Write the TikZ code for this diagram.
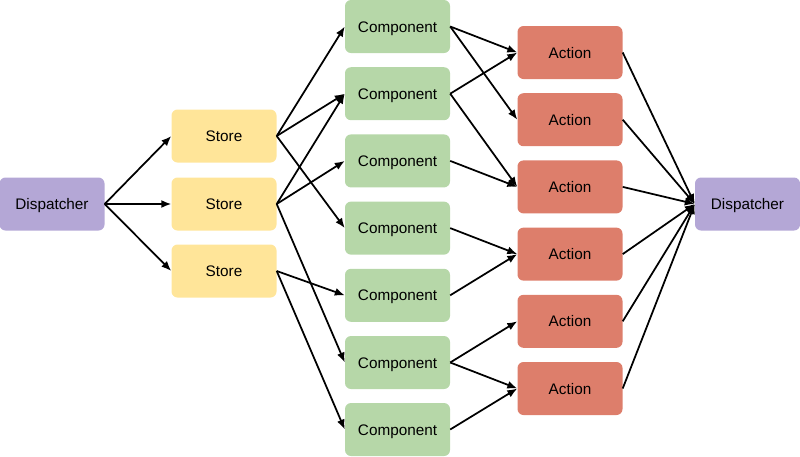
\documentclass[tikz,border=0pt]{standalone}
\usepackage{fontspec}
\setmainfont{Liberation Sans}
\usetikzlibrary{arrows.meta}
\usepackage{xcolor}

\definecolor{dispcol}{HTML}{B4A7D6}
\definecolor{storecol}{HTML}{FFE599}
\definecolor{compcol}{HTML}{B6D7A8}
\definecolor{actcol}{HTML}{DD7E6B}

\begin{document}
\begin{tikzpicture}[x=1pt, y=-1pt,
	box/.style={rounded corners=6pt, minimum width=105pt, minimum height=53pt,
		inner sep=0pt, text height=11pt, text depth=0pt,
		font=\fontsize{15.3}{18}\selectfont},
	disp/.style={box, fill=dispcol},
	store/.style={box, fill=storecol},
	comp/.style={box, fill=compcol},
	act/.style={box, fill=actcol},
	flow/.style={-{Latex[length=10pt, width=8pt]}, line width=1.75pt}]
	\useasboundingbox (0,0) rectangle (800,456);

	% dispatcher on the left
	\node [disp] (D) at (52,204) {Dispatcher};

	% stores
	\node [store] (S1) at (224,136) {Store};
	\node [store] (S2) at (224,204) {Store};
	\node [store] (S3) at (224,271) {Store};

	% components
	\node [comp] (C1) at (397.5,26.5) {Component};
	\node [comp] (C2) at (397.5,93.7) {Component};
	\node [comp] (C3) at (397.5,160.9) {Component};
	\node [comp] (C4) at (397.5,228.1) {Component};
	\node [comp] (C5) at (397.5,295.3) {Component};
	\node [comp] (C6) at (397.5,362.5) {Component};
	\node [comp] (C7) at (397.5,429.5) {Component};

	% actions
	\node [act] (A1) at (570,52.5) {Action};
	\node [act] (A2) at (570,119.7) {Action};
	\node [act] (A3) at (570,186.9) {Action};
	\node [act] (A4) at (570,254.1) {Action};
	\node [act] (A5) at (570,321.3) {Action};
	\node [act] (A6) at (570,388.5) {Action};

	% dispatcher on the right
	\node [disp] (E) at (747.5,204) {Dispatcher};

	\draw [flow] (D.east) -- (S1.west);
	\draw [flow] (D.east) -- (S2.west);
	\draw [flow] (D.east) -- (S3.west);

	\draw [flow] (S1.east) -- (C1.west);
	\draw [flow] (S1.east) -- (C2.west);
	\draw [flow] (S1.east) -- (C4.west);
	\draw [flow] (S2.east) -- (C2.west);
	\draw [flow] (S2.east) -- (C3.west);
	\draw [flow] (S2.east) -- (C6.west);
	\draw [flow] (S3.east) -- (C5.west);
	\draw [flow] (S3.east) -- (C7.west);

	\draw [flow] (C1.east) -- (A1.west);
	\draw [flow] (C1.east) -- (A2.west);
	\draw [flow] (C2.east) -- (A1.west);
	\draw [flow] (C2.east) -- (A3.west);
	\draw [flow] (C3.east) -- (A3.west);
	\draw [flow] (C4.east) -- (A4.west);
	\draw [flow] (C5.east) -- (A4.west);
	\draw [flow] (C6.east) -- (A5.west);
	\draw [flow] (C6.east) -- (A6.west);
	\draw [flow] (C7.east) -- (A6.west);

	\draw [flow] (A1.east) -- (E.west);
	\draw [flow] (A2.east) -- (E.west);
	\draw [flow] (A3.east) -- (E.west);
	\draw [flow] (A4.east) -- (E.west);
	\draw [flow] (A5.east) -- (E.west);
	\draw [flow] (A6.east) -- (E.west);

\end{tikzpicture}
\end{document}
